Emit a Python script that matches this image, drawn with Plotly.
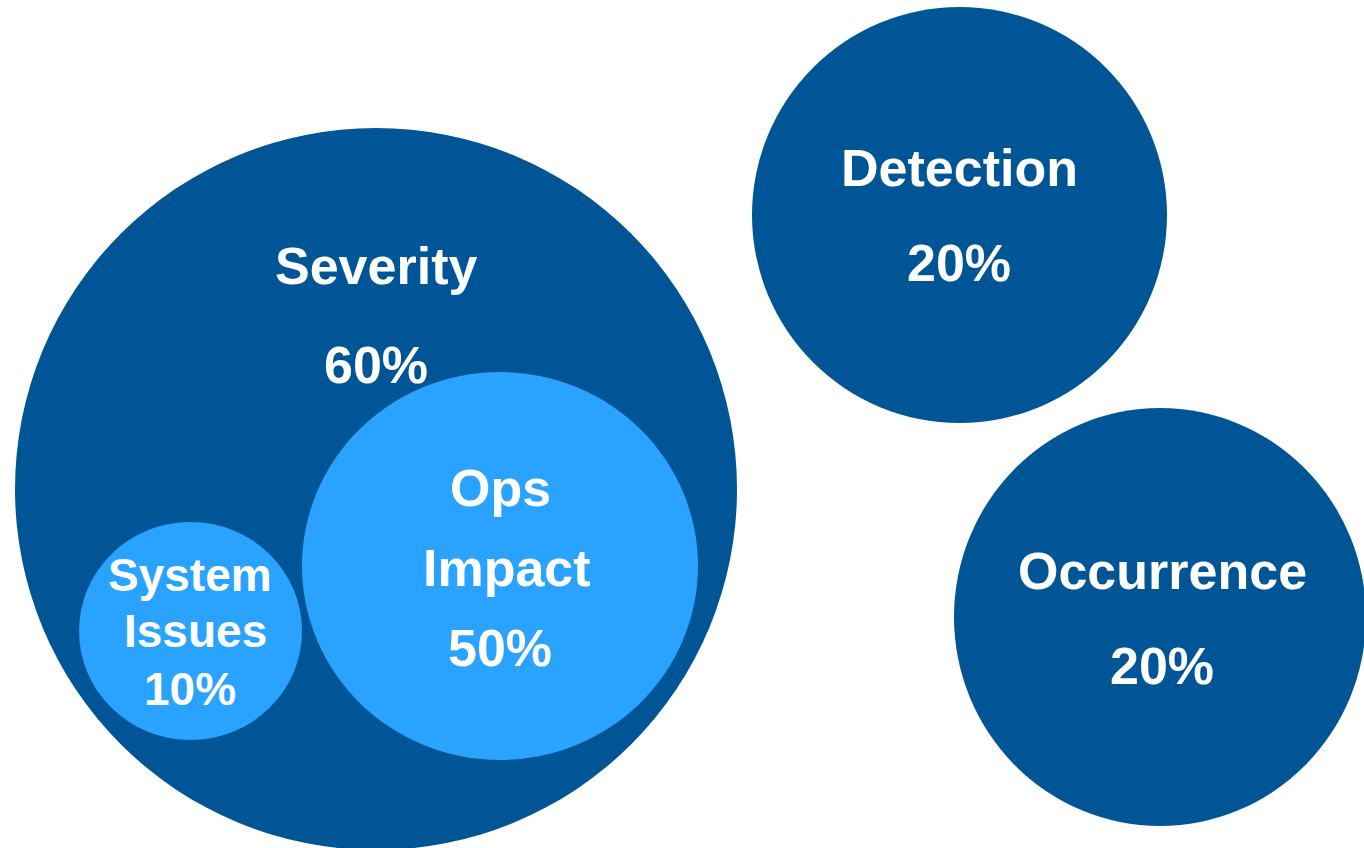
import plotly.graph_objects as go

# ---- data ----
categories = ["Severity", "Detection", "Occurrence", "Ops Impact", "System Issues"]
weights = [60, 20, 20, 50, 10]
tiers = ["outer", "outer", "outer", "inner", "inner"]

# ---- layout (pixel geometry) ----
W, H = 1364, 848
circle_boxes = [  # x0, y0, x1, y1
    (15, 128, 737, 850),
    (752, 7, 1167, 423),
    (954, 408, 1366, 826),
    (302, 372, 698, 760),
    (79, 522, 302, 740),
]
line_x = [
    [376, 376],
    [959, 959],
    [1162, 1162],
    [500, 507, 500],
    [190, 195, 190],
]
line_y = [
    [266, 365],
    [168, 263],
    [571, 666],
    [488, 568, 648],
    [575, 631, 689],
]
font_sizes = [52, 52, 52, 52, 46]
colors = {"outer": "#005596", "inner": "#29A3FF"}

fig = go.Figure()
fig.add_trace(go.Scatter(x=[0, W], y=[0, H], mode="markers",
                         marker=dict(opacity=0), hoverinfo="skip", showlegend=False))

shapes = []
annotations = []
for name, w, tier, box, lx, ly, fs in zip(categories, weights, tiers, circle_boxes,
                                         line_x, line_y, font_sizes):
    x0, y0, x1, y1 = box
    shapes.append(dict(type="circle", xref="x", yref="y", x0=x0, y0=y0, x1=x1, y1=y1,
                       fillcolor=colors[tier], line=dict(width=0), layer="below"))
    lines = name.split(" ") + [f"{w}%"]
    for t, xx, yy in zip(lines, lx, ly):
        annotations.append(dict(x=xx, y=yy, xref="x", yref="y", text=t, showarrow=False,
                                xanchor="center", yanchor="middle",
                                font=dict(family="Liberation Sans, Arial", size=fs,
                                          color="white", weight="bold")))

fig.update_layout(
    width=W, height=H,
    margin=dict(l=0, r=0, t=0, b=0),
    paper_bgcolor="white", plot_bgcolor="white",
    xaxis=dict(range=[0, W], visible=False, fixedrange=True),
    yaxis=dict(range=[H, 0], visible=False, fixedrange=True),
    shapes=shapes, annotations=annotations, showlegend=False,
)

fig.write_html("out.html", config={"displayModeBar": False},
               post_script="document.body.style.margin='0';document.body.style.overflow='hidden';")
